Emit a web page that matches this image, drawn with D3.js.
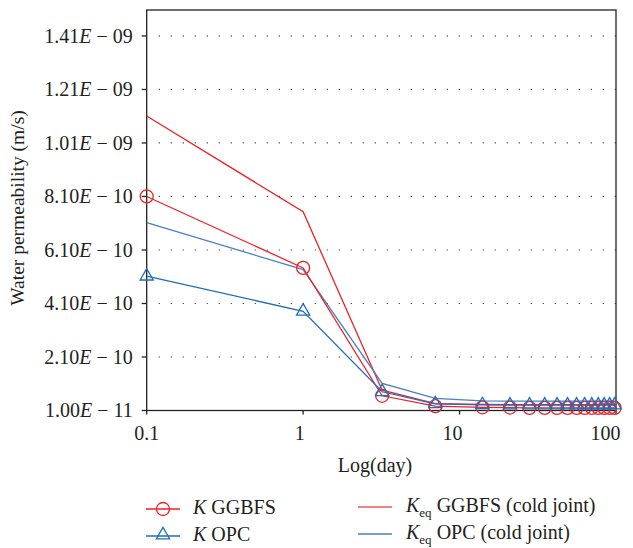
<!DOCTYPE html>
<html>
<head>
<meta charset="utf-8">
<script src="https://cdn.jsdelivr.net/npm/d3@7"></script>
<style>
  html, body { margin: 0; padding: 0; background: #fff; }
  svg { display: block; font-family: "Liberation Serif", "DejaVu Serif", serif; }
</style>
</head>
<body>
<div id="chart"></div>
<script>
// Values (day on a log axis, permeability in m/s).
var days = [0.1, 1, 3.2, 7, 14, 21, 28, 35, 42, 49, 56, 63, 70, 77, 84, 91, 98];
var kGGBFS = [8.1e-10, 5.43e-10, 6.5e-11, 2.6e-11, 2.2e-11, 2.1e-11, 2.0e-11, 2.0e-11, 2.0e-11,
  2.0e-11, 2.0e-11, 2.0e-11, 2.0e-11, 2.0e-11, 2.0e-11, 2.0e-11, 2.0e-11];
var kOPC = [5.12e-10, 3.81e-10, 8.0e-11, 3.5e-11, 3.1e-11, 3.0e-11, 3.0e-11, 3.0e-11, 3.0e-11,
  3.0e-11, 3.0e-11, 3.0e-11, 3.0e-11, 3.0e-11, 3.0e-11, 3.0e-11, 3.0e-11];
var keqGGBFS = [1.111e-9, 7.53e-10, 8.6e-11, 3.6e-11, 3.3e-11, 3.2e-11, 3.2e-11, 3.2e-11, 3.2e-11,
  3.2e-11, 3.2e-11, 3.2e-11, 3.2e-11, 3.2e-11, 3.2e-11, 3.2e-11, 3.2e-11];
var keqOPC = [7.12e-10, 5.37e-10, 1.11e-10, 5.5e-11, 4.6e-11, 4.5e-11, 4.5e-11, 4.5e-11, 4.5e-11,
  4.5e-11, 4.5e-11, 4.5e-11, 4.5e-11, 4.5e-11, 4.5e-11, 4.5e-11, 4.5e-11];

var xTicks = [0.1, 1, 10, 100];
var xTickLabels = ["0.1", "1", "10", "100"];
var yTicks = [1.0e-11, 2.1e-10, 4.1e-10, 6.1e-10, 8.1e-10, 1.01e-9, 1.21e-9, 1.41e-9];

var RED = "#ec2227", BLUE = "#1f6db9", BLUE_EQ = "#4a7fc2";
var W = 633, H = 548;
var m = { top: 10, right: 17, bottom: 137.5, left: 146.7 };
var FS = "20px";

var svg = d3.select("#chart").append("svg").attr("width", W).attr("height", H);

var x = d3.scaleLog().domain([0.1, 100]).range([m.left, W - m.right]);
var y = d3.scaleLinear().domain([1e-11, 1.507e-9]).range([H - m.bottom, m.top]);

// dotted horizontal grid at each y tick (bottom one is the axis itself)
svg.append("g").selectAll("line").data(yTicks.slice(1)).enter().append("line")
  .attr("x1", m.left + 12).attr("x2", W - m.right)
  .attr("y1", function (d) { return y(d); }).attr("y2", function (d) { return y(d); })
  .attr("stroke", "#444").attr("stroke-width", 1.2).attr("stroke-dasharray", "1.2 10.8");

// frame
svg.append("rect").attr("x", m.left).attr("y", m.top)
  .attr("width", W - m.right - m.left).attr("height", H - m.bottom - m.top)
  .attr("fill", "none").attr("stroke", "#222").attr("stroke-width", 1.3);

// y ticks with "1.41E − 09" style labels
function mant(v) {
  var e = Math.floor(Math.log10(v) + 1e-9);
  return { m: (v / Math.pow(10, e)).toFixed(2), e: String(-e).padStart(2, "0") };
}
var yAxis = svg.append("g").attr("class", "y-axis");
yTicks.forEach(function (v) {
  var yy = y(v), p = mant(v);
  yAxis.append("line").attr("x1", m.left - 5).attr("x2", m.left).attr("y1", yy).attr("y2", yy)
    .attr("stroke", "#222").attr("stroke-width", 1.3);
  var t = yAxis.append("text").attr("x", m.left - 14).attr("y", yy + 6.8)
    .attr("text-anchor", "end").attr("font-size", FS).attr("fill", "#231f20");
  t.append("tspan").text(p.m);
  t.append("tspan").attr("font-style", "italic").text("E");
  t.append("tspan").text(" \u2212 " + p.e);
});

// x ticks
var xAxis = svg.append("g").attr("class", "x-axis");
xTicks.forEach(function (v, i) {
  var xx = x(v);
  xAxis.append("line").attr("x1", xx).attr("x2", xx).attr("y1", y(1e-11)).attr("y2", y(1e-11) + 4)
    .attr("stroke", "#222").attr("stroke-width", 1.3);
  xAxis.append("text").attr("x", xx - i * 3.5).attr("y", 440).attr("text-anchor", "middle")
    .attr("font-size", FS).attr("fill", "#231f20").text(xTickLabels[i]);
});

svg.append("text").attr("x", 375).attr("y", 472).attr("text-anchor", "middle")
  .attr("font-size", FS).attr("fill", "#231f20").text("Log(day)");
svg.append("text").attr("transform", "translate(24,208) rotate(-90)").attr("text-anchor", "middle")
  .attr("font-size", "19.5px").attr("fill", "#231f20").text("Water permeability (m/s)");

function lineOf(vals) {
  return d3.line().x(function (d, i) { return x(days[i]); }).y(function (d) { return y(d); })(vals);
}
var plot = svg.append("g");
plot.append("path").attr("d", lineOf(keqGGBFS)).attr("fill", "none").attr("stroke", RED).attr("stroke-width", 1.3);
plot.append("path").attr("d", lineOf(keqOPC)).attr("fill", "none").attr("stroke", BLUE_EQ).attr("stroke-width", 1.3);
plot.append("path").attr("d", lineOf(kGGBFS)).attr("fill", "none").attr("stroke", RED).attr("stroke-width", 1.3);
plot.append("path").attr("d", lineOf(kOPC)).attr("fill", "none").attr("stroke", BLUE).attr("stroke-width", 1.3);

var tri = d3.symbol().type(d3.symbolTriangle).size(75);
plot.selectAll(".c").data(kGGBFS).enter().append("circle")
  .attr("cx", function (d, i) { return x(days[i]); }).attr("cy", function (d) { return y(d); })
  .attr("r", 6.5).attr("fill", "none").attr("stroke", RED).attr("stroke-width", 1.3);
plot.selectAll(".t").data(kOPC).enter().append("path")
  .attr("d", tri)
  .attr("transform", function (d, i) { return "translate(" + x(days[i]) + "," + y(d) + ")"; })
  .attr("fill", "none").attr("stroke", BLUE).attr("stroke-width", 1.3);

// legend
var lg = svg.append("g").attr("font-size", FS).attr("fill", "#231f20");
function legLine(x1, yy, color) {
  lg.append("line").attr("x1", x1).attr("x2", x1 + 34).attr("y1", yy).attr("y2", yy)
    .attr("stroke", color).attr("stroke-width", 1.3);
}
legLine(146, 509, RED);
lg.append("circle").attr("cx", 163).attr("cy", 509).attr("r", 6.5).attr("fill", "none").attr("stroke", RED).attr("stroke-width", 1.3);
legLine(146, 536, BLUE);
lg.append("path").attr("d", tri).attr("transform", "translate(163,535)").attr("fill", "none").attr("stroke", BLUE).attr("stroke-width", 1.3);
legLine(358, 507, "#f05a5e");
legLine(358, 534, BLUE_EQ);

function legText(xx, yy, sub, rest) {
  var t = lg.append("text").attr("x", xx).attr("y", yy);
  t.append("tspan").attr("font-style", "italic").text("K");
  if (sub) t.append("tspan").attr("font-size", "13px").attr("dy", 5).text(sub);
  t.append("tspan").attr("dy", sub ? -5 : 0).text(" " + rest);
}
legText(193, 514, null, "GGBFS");
legText(193, 541, null, "OPC");
legText(406, 512, "eq", "GGBFS (cold joint)");
legText(406, 539, "eq", "OPC (cold joint)");
</script>
</body>
</html>
